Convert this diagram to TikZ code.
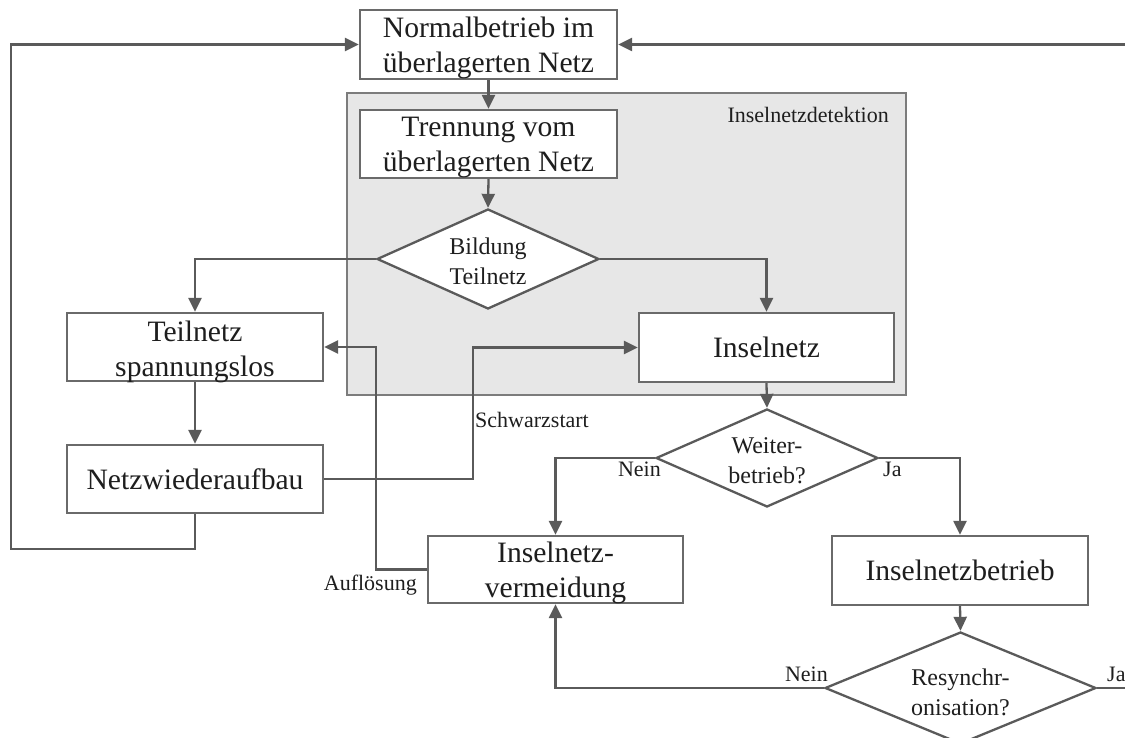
\documentclass[tikz,border=0pt]{standalone}
\usepackage{fontspec}
\setmainfont{Liberation Serif}
\usetikzlibrary{arrows.meta,shapes.geometric}
\definecolor{linec}{HTML}{5A5A5A}
\definecolor{boxc}{HTML}{6A6A6A}
\definecolor{regfill}{HTML}{E7E7E7}
\definecolor{regline}{HTML}{7C7C7C}
\definecolor{txt}{HTML}{1E1E1E}
\tikzset{
  proc/.style={draw=boxc, line width=2.3pt, fill=white, inner sep=0pt, align=center,
    text=txt, font=\fontsize{29.6}{35}\selectfont},
  ptext/.style={align=center, text=txt, inner sep=0pt, font=\fontsize{29.6}{35}\selectfont},
  dia/.style={draw=linec, line width=2.3pt, fill=white, diamond, inner sep=0pt},
  diatext/.style={align=center, text=txt, inner sep=0pt, font=\fontsize{24}{30}\selectfont},
  lab/.style={text=txt, inner sep=0pt, font=\fontsize{22}{26}\selectfont},
  conn/.style={draw=linec, line width=2.3pt},
  arr/.style={conn, -{Triangle[length=14pt,width=13pt]}}
}
\begin{document}
\begin{tikzpicture}[x=1pt,y=-1pt]
\useasboundingbox (0,0) rectangle (1125,738);
\clip (0,0) rectangle (1125,738);
% region
\draw[fill=regfill, draw=regline, line width=2.3pt] (347,93) rectangle (906,395);
\node[lab, anchor=base east] (det) at (889,122.5) {Inselnetzdetektion};
% nodes
\node[proc, minimum width=257pt, minimum height=69pt] (N) at (488.5,44.5) {};
\node[ptext] (Nt) at ([yshift=-3.5pt]N.center) {Normalbetrieb im\\überlagerten Netz};
\node[proc, minimum width=257pt, minimum height=68pt] (T) at (488.5,144) {};
\node[ptext] (Tt) at ([yshift=-3.5pt]T.center) {Trennung vom\\überlagerten Netz};
\node[dia, minimum width=222pt, minimum height=100pt] (B) at (488,259) {};
\node[diatext] (Bt) at (488,261) {Bildung\\Teilnetz};
\node[proc, minimum width=256pt, minimum height=68pt] (TS) at (195,347) {};
\node[ptext] (TSt) at ([yshift=-5pt]TS.center) {Teilnetz\\spannungslos};
\node[proc, minimum width=255pt, minimum height=69pt] (I) at (766.5,347.5) {Inselnetz};
\node[proc, minimum width=256pt, minimum height=68pt] (NW) at (195,479) {Netzwiederaufbau};
\node[dia, minimum width=222pt, minimum height=98pt] (W) at (767,458) {};
\node[diatext] (Wt) at (767,461) {Weiter-\\betrieb?};
\node[proc, minimum width=255pt, minimum height=67pt] (IV) at (555.5,569.5) {};
\node[ptext] (IVt) at ([yshift=-3pt]IV.center) {Inselnetz-\\vermeidung};
\node[proc, minimum width=256pt, minimum height=69pt] (IB) at (960,570.5) {Inselnetzbetrieb};
\node[dia, minimum width=271pt, minimum height=112pt] (R) at (960.5,688) {};
\node[diatext] (Rt) at (960.5,692) {Resynchr-\\onisation?};
% helper coordinates
\coordinate (LL) at (11,549);
\coordinate (SS) at (473,479);
\coordinate (AU) at (376,569.5);
\coordinate (RE) at (1135,688);
\coordinate (RT) at (1135,44.5);
% connectors
\draw[arr] (N.south) -- (T.north);
\draw[arr] (T.south) -- (B.north);
\draw[arr] (B.west) -| (TS.north);
\draw[arr] (B.east) -| (I.north);
\draw[arr] (I.south) -- (W.north);
\draw[arr] (W.west) -| (IV.north);
\draw[arr] (W.east) -| (IB.north);
\draw[arr] (IB.south) -- (R.north);
\draw[arr] (R.west) -| (IV.south);
\draw[arr] (TS.south) -- (NW.north);
\draw[arr] (NW.east) -- (SS) |- (I.west);
\draw[arr] (IV.west) -- (AU) |- (TS.east);
\draw[arr] (NW.south) |- (LL) |- (N.west);
\draw[conn] (R.east) -- (RE);
\draw[arr] (RT) -- (N.east);
% labels
\node[lab, anchor=base west] (ls) at (475,427) {Schwarzstart};
\node[lab, anchor=base east] (la) at (417,590) {Auflösung};
\node[lab, anchor=base east] (wn) at (661,476) {Nein};
\node[lab, anchor=base west] (wj) at (883,476) {Ja};
\node[lab, anchor=base east] (rn) at (828,681) {Nein};
\node[lab, anchor=base west] (rj) at (1107,681) {Ja};
\end{tikzpicture}
\end{document}
